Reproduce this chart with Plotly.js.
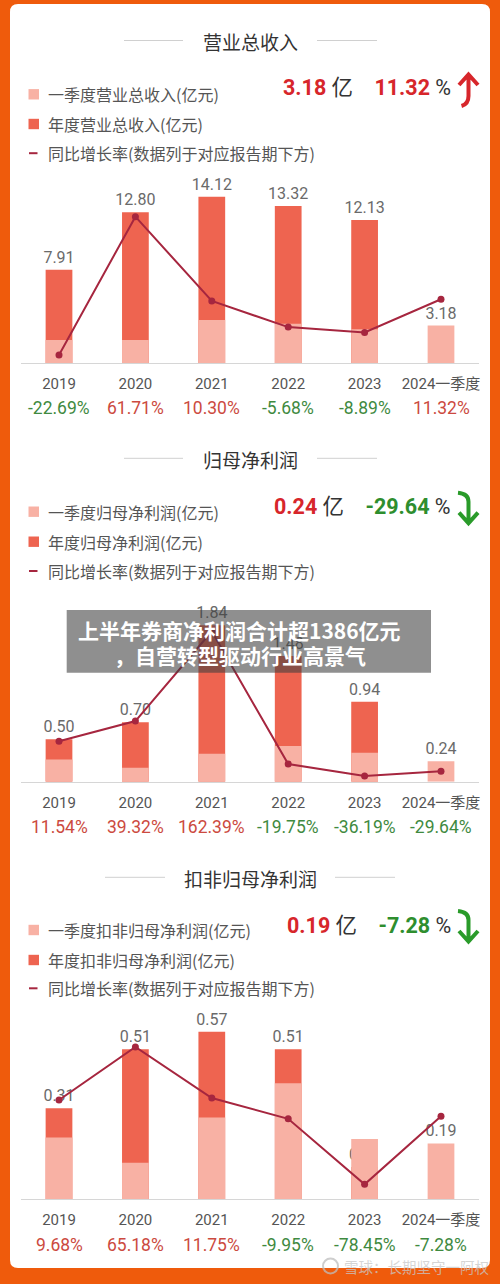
<!DOCTYPE html>
<html><head><meta charset="utf-8">
<script src="https://cdn.plot.ly/plotly-3.0.1.min.js"></script>
<style>html,body{margin:0;padding:0;background:#EF5B0C;}#chart{width:500px;height:1284px;}</style>
</head><body><div id="chart"></div>
<script>
// ---------- data ----------
const categories = ['2019', '2020', '2021', '2022', '2023', '2024一季度'];

const revenueAnnual = [7.91, 12.80, 14.12, 13.32, 12.13, null];
const revenueQ1     = [1.96, 1.96, 3.66, 3.33, 2.86, 3.18];
const revenueGrowth = [-22.69, 61.71, 10.30, -5.68, -8.89, 11.32];

const netProfitAnnual = [0.50, 0.70, 1.84, 1.48, 0.94, null];
const netProfitQ1     = [0.26, 0.165, 0.33, 0.42, 0.34, 0.24];
const netProfitGrowth = [11.54, 39.32, 162.39, -19.75, -36.19, -29.64];

const deductedAnnual = [0.31, 0.51, 0.57, 0.51, 0.11, null];
const deductedQ1     = [0.21, 0.124, 0.278, 0.395, 0.205, 0.19];
const deductedGrowth = [9.68, 65.18, 11.75, -9.95, -78.45, -7.28];

const panelTitles = ['营业总收入', '归母净利润', '扣非归母净利润'];
const q1Names = ['一季度营业总收入(亿元)', '一季度归母净利润(亿元)', '一季度扣非归母净利润(亿元)'];
const annualNames = ['年度营业总收入(亿元)', '年度归母净利润(亿元)', '年度扣非归母净利润(亿元)'];
const growthName = '同比增长率(数据列于对应报告期下方)';
const headline = '上半年券商净利润合计超1386亿元';
const headline2 = '，自营转型驱动行业高景气';
const watermark = '雪球：长期坚守一阿权';

// ---------- styling / layout ----------
const W = 500, H = 1284;
const X = x => x / W, Y = y => 1 - y / H;
const FONT = "Roboto, 'Noto Sans CJK SC', sans-serif";
const CJK = "'Noto Sans CJK SC', Roboto, sans-serif";
const C_Q1 = '#F8B1A4', C_AN = '#EE6450', C_LINE = '#A6263F';
const C_RED = '#D7262B', C_GREEN = '#2E8E2E';
const C_POS = '#CC4A40', C_NEG = '#3F8A3F';
const NB = '\u00A0';

const panels = [
  {annual: revenueAnnual, q1: revenueQ1, growth: revenueGrowth,
   base: 363, top: 170, scale: 11.78, gScale: 1.639, gRef: [-22.69, 355],
   titleY: 41.5, lines: [[124,183],[317,377]], legY: [94.3, 124, 153.2], headY: 87.8, arrowTop: 73, up: true},
  {annual: netProfitAnnual, q1: netProfitQ1, growth: netProfitGrowth,
   base: 781.7, top: 590, scale: 85.0, gScale: 0.729, gRef: [11.54, 741.3],
   titleY: 459.3, lines: [[124,183],[317,377]], legY: [511.7, 541.7, 571], headY: 506.7, arrowTop: 491.7, up: false},
  {annual: deductedAnnual, q1: deductedQ1, growth: deductedGrowth,
   base: 1199.3, top: 1010, scale: 294, gScale: 0.957, gRef: [9.68, 1100],
   titleY: 878.3, lines: [[105,165],[335,395]], legY: [930, 960, 988.3], headY: 925, arrowTop: 910, up: false}
];

const fmt = v => v.toFixed(2);
const traces = [];
const layout = {
  width: W, height: H, margin: {l:0, r:0, t:0, b:0},
  paper_bgcolor: '#EF5B0C', plot_bgcolor: 'rgba(0,0,0,0)',
  barmode: 'overlay', showlegend: false,
  font: {family: FONT, color: '#555'},
  shapes: [], annotations: []
};

// white card
const r = 8, L = 10, T = 4, R = 490, B = 1268;
const P = (x, y) => `${X(x)},${Y(y)}`;
layout.shapes.push({
  type: 'path', xref: 'paper', yref: 'paper', layer: 'below',
  path: `M${P(L, T + r)} Q${P(L, T)} ${P(L + r, T)} L${P(R - r, T)} Q${P(R, T)} ${P(R, T + r)} L${P(R, B - r)} Q${P(R, B)} ${P(R - r, B)} L${P(L + r, B)} Q${P(L, B)} ${P(L, B - r)} Z`,
  fillcolor: '#FFFFFF', line: {width: 0}
});

const xDom = [X(20.8), X(479.2)];

panels.forEach((p, i) => {
  const xa = i === 0 ? 'x' : 'x' + (i + 1);
  const yb = 2 * i + 1, yl = 2 * i + 2;
  const ya = yb === 1 ? 'y' : 'y' + yb;
  const ya2 = 'y' + yl;
  const hpx = p.base - p.top;
  const g0 = p.gRef[0] - (p.base - p.gRef[1]) / p.gScale;

  layout[xa === 'x' ? 'xaxis' : 'xaxis' + (i + 1)] = {
    type: 'category', categoryarray: categories, range: [-0.5, 5.5],
    domain: xDom, anchor: ya, showline: true, linecolor: '#D6D6D6', linewidth: 1,
    ticks: '', showgrid: false, zeroline: false, fixedrange: true,
    tickfont: {family: FONT, size: 15, color: '#555'}, ticklabelstandoff: 7
  };
  layout[ya === 'y' ? 'yaxis' : 'yaxis' + yb] = {
    domain: [Y(p.base), Y(p.top)], anchor: xa, range: [0, hpx / p.scale],
    showgrid: false, zeroline: false, showticklabels: false, showline: false, fixedrange: true
  };
  layout['yaxis' + yl] = {
    overlaying: ya, anchor: xa, side: 'right', range: [g0, g0 + hpx / p.gScale],
    showgrid: false, zeroline: false, showticklabels: false, showline: false, fixedrange: true
  };

  traces.push({
    type: 'bar', x: categories, y: p.annual, xaxis: xa, yaxis: ya, width: 0.35,
    marker: {color: C_AN}, text: p.annual.map(v => v == null ? '' : fmt(v)),
    textposition: 'outside', constraintext: 'none', cliponaxis: false,
    textfont: {family: FONT, size: 16, color: '#6A6A6A'}, hoverinfo: 'skip'
  });
  traces.push({
    type: 'bar', x: categories, y: p.q1, xaxis: xa, yaxis: ya, width: 0.35,
    marker: {color: C_Q1}, text: p.q1.map((v, k) => p.annual[k] == null ? fmt(v) : ''),
    textposition: 'outside', constraintext: 'none', cliponaxis: false,
    textfont: {family: FONT, size: 16, color: '#6A6A6A'}, hoverinfo: 'skip'
  });
  traces.push({
    type: 'scatter', mode: 'lines+markers', x: categories, y: p.growth, xaxis: xa, yaxis: ya2,
    line: {color: C_LINE, width: 2}, marker: {color: C_LINE, size: 7}, cliponaxis: false, hoverinfo: 'skip'
  });

  // growth labels under each category (x given as category index)
  p.growth.forEach((g, k) => {
    layout.annotations.push({
      xref: xa, yref: 'paper', x: k, y: Y(p.base + 45.3), yanchor: 'middle',
      text: fmt(g) + '%', showarrow: false,
      font: {family: FONT, size: 17.5, color: g >= 0 ? C_POS : C_NEG}
    });
  });

  // title with side rules
  layout.annotations.push({xref: 'paper', yref: 'paper', x: 0.5, y: Y(p.titleY), yanchor: 'middle',
    text: panelTitles[i], showarrow: false, font: {family: CJK, size: 19, color: '#333'}});
  p.lines.forEach(([a, b]) => layout.shapes.push({type: 'line', xref: 'paper', yref: 'paper',
    x0: X(a), x1: X(b), y0: Y(p.titleY - 1), y1: Y(p.titleY - 1), line: {color: '#D0D0D0', width: 1}}));

  // legend
  const legTexts = [q1Names[i], annualNames[i], growthName];
  legTexts.forEach((t, k) => layout.annotations.push({xref: 'paper', yref: 'paper', x: X(45.5), y: Y(p.legY[k]),
    xanchor: 'left', yanchor: 'middle', text: t, showarrow: false, font: {family: CJK, size: 16, color: '#555'}}));
  [C_Q1, C_AN].forEach((c, k) => layout.shapes.push({type: 'rect', xref: 'paper', yref: 'paper',
    x0: X(28.5), x1: X(39), y0: Y(p.legY[k] - 5.2), y1: Y(p.legY[k] + 5.2), fillcolor: c, line: {width: 0}}));
  layout.shapes.push({type: 'line', xref: 'paper', yref: 'paper', x0: X(29), x1: X(37.5),
    y0: Y(p.legY[2]), y1: Y(p.legY[2]), line: {color: C_LINE, width: 2}});

  // headline numbers
  const last = p.growth[p.growth.length - 1];
  const q1Last = p.q1[p.q1.length - 1];
  const gCol = last >= 0 ? C_RED : C_GREEN;
  layout.annotations.push({xref: 'paper', yref: 'paper', x: X(452.5), y: Y(p.headY), xanchor: 'right', yanchor: 'middle',
    showarrow: false, font: {family: FONT, size: 21.5, color: '#333'},
    text: `<span style="color:${C_RED}"><b>${fmt(q1Last)}</b></span>${NB}亿${NB}${NB}${NB}${NB}<span style="color:${gCol}"><b>${fmt(last)}</b></span>${NB}%`});
  // arrow
  const t0 = p.arrowTop;
  let path;
  if (p.up) {
    path = `M${P(461.5, t0 + 33)} Q${P(468.5, t0 + 31)} ${P(468.5, t0 + 23)} L${P(468.5, t0 + 3)} M${P(459, t0 + 12)} L${P(468.5, t0 + 1.5)} L${P(478, t0 + 12)}`;
  } else {
    path = `M${P(458, t0 + 1)} Q${P(468.5, t0 + 2)} ${P(468.5, t0 + 10)} L${P(468.5, t0 + 30)} M${P(459, t0 + 21)} L${P(468.5, t0 + 31.5)} L${P(478, t0 + 21)}`;
  }
  layout.shapes.push({type: 'path', xref: 'paper', yref: 'paper', path: path,
    line: {color: p.up ? C_RED : '#2A9B2A', width: 4}});
});

// grey headline overlay
layout.shapes.push({type: 'rect', xref: 'paper', yref: 'paper', layer: 'above',
  x0: X(66.7), x1: X(431), y0: Y(610), y1: Y(672.7), fillcolor: 'rgba(62,62,62,0.58)', line: {width: 0}});
layout.annotations.push({xref: 'paper', yref: 'paper', x: X(239.5), y: Y(629.5), yanchor: 'middle', showarrow: false,
  text: '<b>' + headline + '</b>', font: {family: CJK, size: 21, color: '#FFFFFF'}});
layout.annotations.push({xref: 'paper', yref: 'paper', x: X(240), y: Y(654.5), yanchor: 'middle', showarrow: false,
  text: '<b>' + headline2 + '</b>', font: {family: CJK, size: 21, color: '#FFFFFF'}});

// watermark
layout.shapes.push({type: 'circle', xref: 'paper', yref: 'paper', layer: 'above',
  x0: X(323), x1: X(338), y0: Y(1258.5), y1: Y(1273.5), line: {color: 'rgba(190,190,190,0.75)', width: 2}});
layout.annotations.push({xref: 'paper', yref: 'paper', x: X(342), y: Y(1266), xanchor: 'left', yanchor: 'middle', showarrow: false,
  text: watermark, font: {family: CJK, size: 14.5, color: 'rgba(200,200,200,0.75)'}});

Plotly.newPlot('chart', traces, layout, {staticPlot: true, displayModeBar: false});
</script></body></html>
